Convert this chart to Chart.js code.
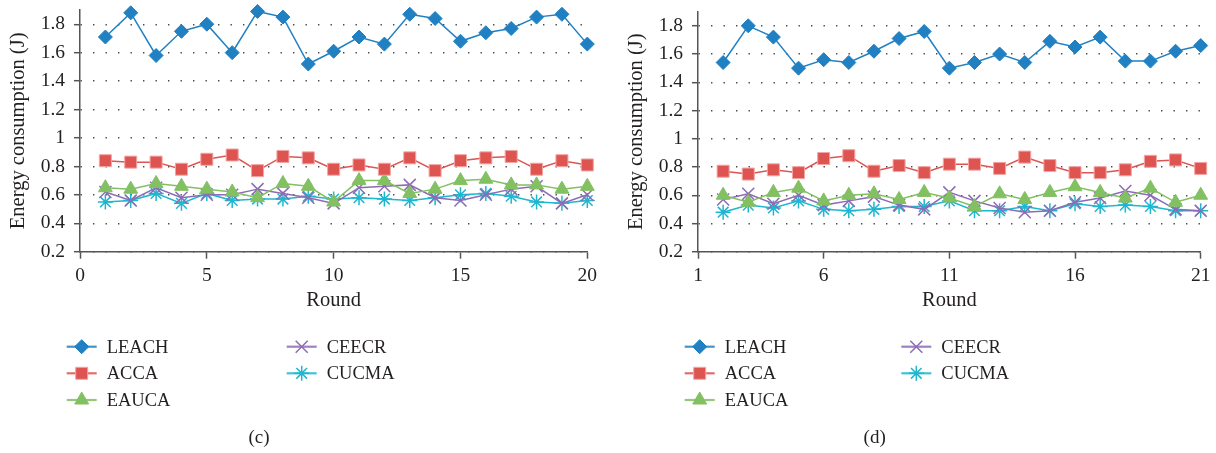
<!DOCTYPE html>
<html>
<head>
<meta charset="utf-8">
<script src="https://cdn.jsdelivr.net/npm/chart.js@4.4.1/dist/chart.umd.min.js"></script>
<style>
  html, body { margin: 0; padding: 0; background: #fff; }
  #wrap { position: relative; width: 1216px; height: 453px; overflow: hidden; }
  canvas { position: absolute; top: 0; }
  #chartC { left: 0; }
  #chartD { left: 608px; }
</style>
</head>
<body>
<div id="wrap">
  <canvas id="chartC" width="608" height="453"></canvas>
  <canvas id="chartD" width="608" height="453"></canvas>
</div>
<script>
// series names
const seriesNames = ['LEACH', 'ACCA', 'EAUCA', 'CEECR', 'CUCMA'];

// panel (c)
const roundsC = [1, 2, 3, 4, 5, 6, 7, 8, 9, 10, 11, 12, 13, 14, 15, 16, 17, 18, 19, 20];
const leachC = [1.71, 1.88, 1.58, 1.75, 1.80, 1.60, 1.89, 1.85, 1.52, 1.61, 1.71, 1.66, 1.87, 1.84, 1.68, 1.74, 1.77, 1.85, 1.87, 1.66];
const accaC  = [0.84, 0.83, 0.83, 0.78, 0.85, 0.88, 0.77, 0.87, 0.86, 0.78, 0.81, 0.78, 0.86, 0.77, 0.84, 0.86, 0.87, 0.78, 0.84, 0.81];
const eaucaC = [0.65, 0.64, 0.68, 0.66, 0.64, 0.62, 0.58, 0.68, 0.66, 0.55, 0.70, 0.70, 0.61, 0.64, 0.70, 0.71, 0.67, 0.67, 0.64, 0.66];
const ceecrC = [0.62, 0.56, 0.65, 0.58, 0.60, 0.60, 0.64, 0.61, 0.58, 0.54, 0.65, 0.66, 0.67, 0.58, 0.56, 0.60, 0.64, 0.66, 0.54, 0.60];
const cucmaC = [0.55, 0.56, 0.61, 0.54, 0.61, 0.56, 0.57, 0.57, 0.59, 0.57, 0.58, 0.57, 0.56, 0.58, 0.60, 0.61, 0.59, 0.55, 0.54, 0.56];

// panel (d)
const roundsD = [2, 3, 4, 5, 6, 7, 8, 9, 10, 11, 12, 13, 14, 15, 16, 17, 18, 19, 20, 21];
const leachD = [1.54, 1.80, 1.72, 1.50, 1.56, 1.54, 1.62, 1.71, 1.76, 1.50, 1.54, 1.60, 1.54, 1.69, 1.65, 1.72, 1.55, 1.55, 1.62, 1.66];
const accaD  = [0.77, 0.75, 0.78, 0.76, 0.86, 0.88, 0.77, 0.81, 0.76, 0.82, 0.82, 0.79, 0.87, 0.81, 0.76, 0.76, 0.78, 0.84, 0.85, 0.79];
const eaucaD = [0.60, 0.55, 0.62, 0.65, 0.56, 0.60, 0.61, 0.57, 0.62, 0.58, 0.52, 0.61, 0.57, 0.62, 0.66, 0.62, 0.58, 0.65, 0.55, 0.60];
const ceecrD = [0.57, 0.61, 0.54, 0.60, 0.53, 0.56, 0.59, 0.53, 0.50, 0.62, 0.56, 0.51, 0.48, 0.49, 0.55, 0.58, 0.63, 0.60, 0.50, 0.49];
const cucmaD = [0.48, 0.53, 0.51, 0.56, 0.50, 0.49, 0.50, 0.52, 0.52, 0.56, 0.49, 0.49, 0.52, 0.49, 0.54, 0.52, 0.53, 0.52, 0.49, 0.49];

// ticks
const yTicks = [0.2, 0.4, 0.6, 0.8, 1, 1.2, 1.4, 1.6, 1.8];
const xTicksC = [0, 5, 10, 15, 20];
const xTicksD = [1, 6, 11, 16, 21];

const FONT = "'Liberation Serif', 'DejaVu Serif', serif";
const TEXT = '#231f20';
const AXIS = '#555';

Chart.defaults.font.family = FONT;
Chart.defaults.color = TEXT;

// marker look per series
const seriesStyle = [
  { color: '#2080c2', pointStyle: 'rectRot', radius: 7, fill: '#2080c2', border: '#2080c2', bw: 1 },
  { color: '#de5451', pointStyle: 'rect', radius: 8.5, fill: '#de5451', border: '#f2a6a4', bw: 1 },
  { color: '#82c062', pointStyle: 'triangle', radius: 8, fill: '#82c062', border: '#82c062', bw: 1 },
  { color: '#8c6cb4', pointStyle: 'crossRot', radius: 8.5, fill: '#8c6cb4', border: '#8c6cb4', bw: 1.5 },
  { color: '#1fb6d0', pointStyle: 'star', radius: 7.5, fill: '#1fb6d0', border: '#1fb6d0', bw: 1.5 }
];

// legend + caption drawn under the plot
const panelLegend = {
  id: 'panelLegend',
  afterDraw(chart, args, opts) {
    const ctx = chart.ctx;
    ctx.save();
    chart.data.datasets.forEach((ds, i) => {
      const col = i < 3 ? 0 : 1;
      const row = i < 3 ? i : i - 3;
      const x0 = opts.cols[col];
      const y = opts.rows[row];
      ctx.strokeStyle = ds.borderColor;
      ctx.globalAlpha = 0.85;
      ctx.lineWidth = 2.2;
      ctx.beginPath();
      ctx.moveTo(x0, y);
      ctx.lineTo(x0 + 30, y);
      ctx.stroke();
      ctx.globalAlpha = 1;
      ctx.fillStyle = ds.pointBackgroundColor;
      ctx.strokeStyle = ds.pointBorderColor;
      ctx.lineWidth = ds.pointBorderWidth;
      Chart.helpers.drawPoint(ctx, {
        pointStyle: ds.pointStyle, radius: ds.pointRadius,
        borderWidth: ds.pointBorderWidth, rotation: 0
      }, x0 + 15, y);
      ctx.fillStyle = TEXT;
      ctx.font = '18.5px ' + FONT;
      ctx.textAlign = 'left';
      ctx.textBaseline = 'middle';
      ctx.fillText(ds.label, x0 + 40, y + 1);
    });
    ctx.font = '19px ' + FONT;
    ctx.textAlign = 'center';
    ctx.textBaseline = 'middle';
    ctx.fillStyle = TEXT;
    ctx.fillText(opts.caption, opts.captionX, 438);
    ctx.restore();
  }
};

function makeChart(id, rounds, values, xTicks, xMin, xMax, pad, legendCols, caption, captionX) {
  const datasets = values.map((vals, i) => {
    const st = seriesStyle[i];
    return {
      label: seriesNames[i],
      data: rounds.map((r, k) => ({ x: r, y: vals[k] })),
      borderColor: st.color,
      borderWidth: 1.5,
      pointStyle: st.pointStyle,
      pointRadius: st.radius,
      pointHoverRadius: st.radius,
      pointBackgroundColor: st.fill,
      pointBorderColor: st.border,
      pointBorderWidth: st.bw,
      tension: 0,
      clip: false
    };
  });

  return new Chart(document.getElementById(id).getContext('2d'), {
    type: 'line',
    data: { datasets: datasets },
    options: {
      responsive: false,
      animation: false,
      devicePixelRatio: 1,
      layout: { padding: pad },
      plugins: {
        legend: { display: false },
        tooltip: { enabled: false },
        panelLegend: { cols: legendCols, rows: [346.7, 373.3, 400], caption: caption, captionX: captionX }
      },
      scales: {
        x: {
          type: 'linear',
          min: xMin,
          max: xMax,
          afterBuildTicks: s => { s.ticks = xTicks.map(v => ({ value: v })); },
          afterFit: s => { s.height = 65; s.paddingLeft = 0; s.paddingRight = 0; },
          ticks: { font: { size: 19.5 }, color: TEXT, padding: 5, maxRotation: 0, autoSkip: false },
          grid: { drawOnChartArea: false, drawTicks: true, tickLength: 7, tickColor: AXIS, tickWidth: 1.5 },
          border: { color: AXIS, width: 1.5 },
          title: { display: true, text: 'Round', color: TEXT, font: { size: 20.5 }, padding: { top: 0, bottom: 4 } }
        },
        y: {
          type: 'linear',
          min: 0.2,
          max: 1.9,
          afterBuildTicks: s => { s.ticks = yTicks.map(v => ({ value: v })); },
          afterFit: s => { s.width = 80; s.paddingTop = 0; s.paddingBottom = 0; },
          ticks: { font: { size: 19.5 }, color: TEXT, padding: 9, callback: v => String(+v.toFixed(1)) },
          grid: { color: '#4a4a4a', lineWidth: 1.4, drawTicks: true, tickLength: 6, tickColor: AXIS, tickWidth: 1.5, tickBorderDash: [] },
          border: { color: AXIS, width: 1.5, dash: [1.4, 11.1] },
          title: { display: true, text: 'Energy consumption (J)', color: TEXT, font: { size: 20.5 }, padding: { top: 6, bottom: 0 } }
        }
      }
    },
    plugins: [panelLegend]
  });
}

makeChart('chartC', roundsC, [leachC, accaC, eaucaC, ceecrC, cucmaC], xTicksC, 0, 20,
  { left: 0, right: 20.7, top: 1, bottom: 136.3 }, [66.7, 286.7], '(c)', 259);
makeChart('chartD', roundsD, [leachD, accaD, eaucaD, ceecrD, cucmaD], xTicksD, 1, 21,
  { left: 10, right: 15.3, top: 11.7, bottom: 136.3 }, [76.7, 293.3], '(d)', 266.7);
</script>
</body>
</html>
